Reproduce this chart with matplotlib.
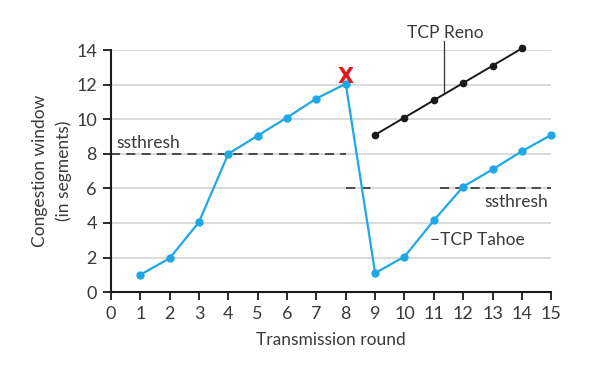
import matplotlib.pyplot as plt

plt.rcParams["font.family"] = ["Lato", "DejaVu Sans"]

# data
rounds = list(range(1, 16))
tahoe_cwnd = [1, 1.95, 4.05, 8, 9.05, 10.1, 11.2, 12.05,
              1.1, 2.05, 4.15, 6.1, 7.1, 8.15, 9.1]
reno_rounds = [9, 10, 11, 12, 13, 14]
reno_cwnd = [9.1, 10.1, 11.1, 12.1, 13.1, 14.1]

ssthresh_before = 8
ssthresh_after = 6
loss_round = 8

x_ticks = list(range(0, 16))
y_ticks = list(range(0, 15, 2))

BLUE = "#1fa8e6"
TEXT = "#3a3a3a"

fig = plt.figure(figsize=(5.96, 3.66), dpi=100)
ax = fig.add_axes([0.186, 0.202, 0.739, 0.661])

for y in y_ticks[1:]:
    ax.axhline(y, color="#d4d4d4", linewidth=1.2, zorder=0)

# ssthresh lines
ax.plot([0, loss_round], [ssthresh_before] * 2, color="#222222",
        linestyle=(0, (6, 4)), linewidth=1.1, zorder=1)
ax.plot([8, 8.85], [ssthresh_after] * 2, color="#222222",
        linestyle=(0, (6, 4)), linewidth=1.1, zorder=1)
ax.plot([11.2, 15], [ssthresh_after] * 2, color="#222222",
        linestyle=(0, (6, 4)), linewidth=1.1, zorder=1)

ax.plot(rounds, tahoe_cwnd, color=BLUE, linewidth=1.6, marker="o",
        markersize=5, zorder=3, clip_on=False)
ax.plot(reno_rounds, reno_cwnd, color="#1a1a1a", linewidth=1.4, marker="o",
        markersize=4.5, zorder=3, clip_on=False)

ax.text(loss_round, 12.45, "X", color="#e8141b", fontsize=15,
        fontweight="bold", ha="center", va="center", zorder=4,
        family=["Liberation Sans Narrow", "DejaVu Sans"])

ax.text(11.39, 15.0, "TCP Reno", color=TEXT, fontsize=12.5,
        ha="center", va="center", clip_on=False)
ax.plot([11.35, 11.35], [14.55, 11.45], color="#333333", linewidth=0.9,
        clip_on=False, zorder=2)
ax.text(10.88, 3.0, "\u2212TCP Tahoe", color=TEXT, fontsize=12.5,
        ha="left", va="center")
ax.text(14.9, 5.2, "ssthresh", color=TEXT, fontsize=12.5,
        ha="right", va="center")
ax.text(0.2, 8.6, "ssthresh", color=TEXT, fontsize=12.5,
        ha="left", va="center")

ax.set_xlim(0, 15)
ax.set_ylim(0, 14)
ax.set_xticks(x_ticks)
ax.set_yticks(y_ticks)
ax.tick_params(direction="out", length=6, width=1.3, labelsize=13,
               labelcolor=TEXT, color="#1a1a1a")
ax.tick_params(axis="x", pad=4)
ax.tick_params(axis="y", pad=4)
for side in ("top", "right"):
    ax.spines[side].set_visible(False)
for side in ("left", "bottom"):
    ax.spines[side].set_linewidth(1.5)
    ax.spines[side].set_color("#1a1a1a")

ax.set_xlabel("Transmission round", fontsize=12.5, color=TEXT, labelpad=7)
ax.set_ylabel("Congestion window\n(in segments)", fontsize=12.5, color=TEXT,
              linespacing=1.55, labelpad=3)

fig.savefig("out.png", dpi=100)
